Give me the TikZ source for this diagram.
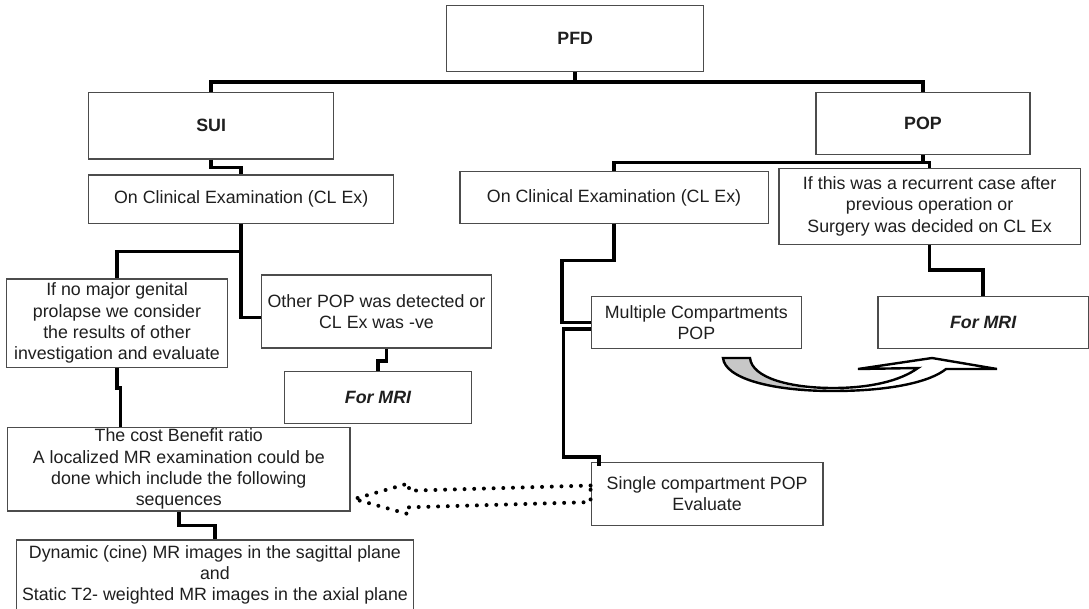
\documentclass[tikz,border=0pt]{standalone}
\usepackage{fontspec}
\setmainfont{Liberation Sans}
\begin{document}
\begin{tikzpicture}[x=1pt,y=-1pt,
  box/.style={draw=black!70,line width=1.3pt,fill=white,inner sep=0pt,align=center,
    text=black!88,font=\fontsize{17.8}{21.3}\selectfont},
  bbox/.style={box,font=\fontsize{17.8}{21.3}\selectfont\bfseries},
  ibox/.style={box,font=\fontsize{17.8}{21.3}\selectfont\bfseries\itshape},
  conn/.style={draw=black,line width=3.6pt,line join=miter},
  dotarrow/.style={draw=black,line width=4pt,line cap=round,dash pattern=on 0pt off 9.7pt},
  curvearrow/.style={draw=black,line width=2.4pt,line join=miter}]
\useasboundingbox (0,0) rectangle (1089,608);
\fill[white] (0,0) rectangle (1089,608);

% nodes
\node[bbox,minimum width=257.2pt,minimum height=66pt] (pfd) at (575.2,38.3) {PFD};
\node[bbox,minimum width=245.1pt,minimum height=66.7pt] (sui) at (211.15,125.65) {SUI};
\node[bbox,minimum width=213.8pt,minimum height=62pt] (pop) at (923,123.3) {POP};
\node[box,minimum width=305.2pt,minimum height=48.3pt] (clexl) at (241.2,199.15) {On Clinical Examination (CL Ex)};
\node[box,minimum width=308.3pt,minimum height=51.6pt] (clexr) at (614.05,197.5) {On Clinical Examination (CL Ex)};
\node[box,minimum width=301.4pt,minimum height=76pt] (rec) at (929.6,206.3) {If this was a recurrent case after\\previous operation or\\Surgery was decided on CL Ex};
\node[box,minimum width=221.4pt,minimum height=88.3pt] (ifno) at (117,323.15) {If no major genital\\prolapse we consider\\the results of other\\investigation and evaluate};
\node[box,minimum width=230.1pt,minimum height=73pt] (other) at (376.45,311.5) {Other POP was detected or\\CL Ex was -ve};
\node[ibox,minimum width=187.4pt,minimum height=52pt] (mril) at (378,397.3) {For MRI};
\node[box,minimum width=342.4pt,minimum height=83.7pt] (cost) at (178.8,469.15) {The cost Benefit ratio\\A localized MR examination could be\\done which include the following\\sequences};
\node[box,minimum width=397.3pt,minimum height=70pt] (dyn) at (214.95,575) {Dynamic (cine) MR images in the sagittal plane\\and\\Static T2- weighted MR images in the axial plane};
\node[box,minimum width=210.3pt,minimum height=52.6pt] (mult) at (696.35,322.5) {Multiple Compartments\\POP};
\node[ibox,minimum width=210.3pt,minimum height=52.6pt] (mrir) at (983.15,322.5) {For MRI};
\node[box,minimum width=231.8pt,minimum height=63pt] (single) at (707.1,493.8) {Single compartment POP\\Evaluate};

% connectors
\coordinate (h1) at (575.2,81.7);
\draw[conn] (pfd.south) -- (h1);
\draw[conn] (sui.north) |- (h1) -| (pop.north);
\draw[conn] (sui.south) -- ++(0,7.7) -| (clexl.north);
\coordinate (h2) at (923,162.3);
\draw[conn] (pop.south) -- (h2);
\draw[conn] (clexr.north) |- (h2) -| (rec.north);
\draw[conn] (clexl.south) -- ++(0,27.7) -| (ifno.north);
\draw[conn] (clexl.south) |- ([yshift=-6pt]other.west);
\draw[conn] ([xshift=10pt]other.south) -- ++(0,12.3) -| (mril.north);
\draw[conn] (ifno.south) -- ++(0,20) -| ([xshift=-58.2pt]cost.north);
\draw[conn] (cost.south) -- ++(0,14) -| (dyn.north);
\draw[conn] (rec.south) -- ++(0,25) -| (mrir.north);
\draw[conn] (clexr.south) -- ++(0,36.7) -| ([xshift=-28.8pt]mult.west) -- (mult.west);
\draw[conn] ([yshift=-6.5pt]mult.west) -- ++(-27.2,0) |- ([xshift=8.4pt,yshift=4.6pt]single.north west) -- ([xshift=8.4pt,yshift=-4.4pt]single.north west);

% dotted block arrow from single to cost
\draw[dotarrow] ([yshift=8.3pt]single.west) -- (409,490.7) -- (409,483.3) -- ([xshift=3.3pt]cost.east |- 0,499) -- (409,514.3) -- (409,507.3) -- ([yshift=-8.3pt]single.west) -- cycle;

% curved block arrow from mult towards mrir
\path[fill=white] (723,358) .. controls (725,378) and (770,391) .. (833,391)
  .. controls (890,391) and (930,382) .. (946,369) -- (997,369) -- (932,358) -- (858,369) -- (918,368)
  .. controls (900,381) and (870,388) .. (833,388) .. controls (790,388) and (752,378) .. (750,358) -- cycle;
\fill[black!22] (723,358) .. controls (725,378) and (760,388) .. (805,390.3)
  -- (805,387.6) .. controls (775,385) and (751,374) .. (750,358) -- cycle;
\draw[curvearrow] (723,358) .. controls (725,378) and (770,391) .. (833,391)
  .. controls (890,391) and (930,382) .. (946,369) -- (997,369) -- (932,358) -- (858,369) -- (918,368)
  .. controls (900,381) and (870,388) .. (833,388) .. controls (790,388) and (752,378) .. (750,358) -- cycle;
\end{tikzpicture}
\end{document}
